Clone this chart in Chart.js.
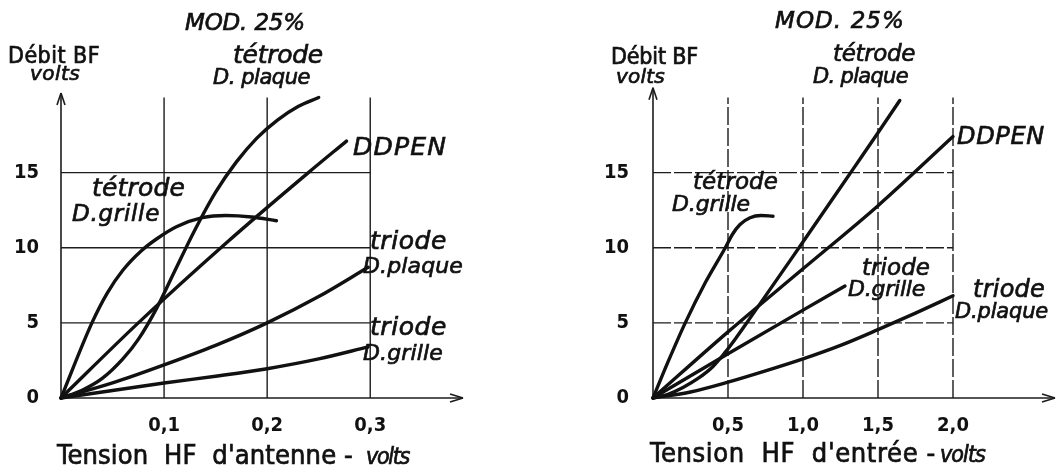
<!DOCTYPE html>
<html lang="fr">
<head>
<meta charset="utf-8">
<title>Débit BF - MOD. 25%</title>
<script src="https://cdn.jsdelivr.net/npm/chart.js@4/dist/chart.umd.min.js"></script>
<style>
  html, body { margin: 0; background: #fff; }
  #wrap { position: relative; width: 1058px; height: 469px; overflow: hidden; }
  .panel { position: absolute; top: 0; width: 529px; height: 469px; }
</style>
</head>
<body>
<div id="wrap">
  <div class="panel" style="left:0"><canvas id="antenne"></canvas></div>
  <div class="panel" style="left:529px"><canvas id="entree"></canvas></div>
</div>
<script>
const yTicks = [0, 5, 10, 15];
const curveNames = ['tétrode D.plaque', 'DDPEN', 'tétrode D.grille', 'triode D.plaque', 'triode D.grille'];

// Débit BF (volts) vs tension HF d'antenne (volts)
const antenneTicks = [0.1, 0.2, 0.3];
const antTetrodePlaque = [[0,0],[0.02,0.5],[0.04,1.3],[0.06,2.6],[0.075,3.9],[0.093,6.0],[0.11,8.4],[0.13,11.2],[0.15,13.7],[0.17,15.7],[0.19,17.3],[0.21,18.5],[0.23,19.4],[0.25,20.0]];
const antDdpen = [[0,0],[0.075,5.0],[0.16,10.3],[0.24,15.0],[0.277,17.1]];
const antTetrodeGrille = [[0,0],[0.03,5.0],[0.045,7.0],[0.06,8.5],[0.078,9.8],[0.093,10.6],[0.112,11.4],[0.137,12.0],[0.16,12.15],[0.185,12.05],[0.209,11.8]];
const antTriodePlaque = [[0,0],[0.05,1.0],[0.1,2.2],[0.15,3.5],[0.2,5.0],[0.25,6.75],[0.298,8.7]];
const antTriodeGrille = [[0,0],[0.05,0.5],[0.1,1.0],[0.15,1.45],[0.2,1.95],[0.25,2.6],[0.298,3.4]];

// Débit BF (volts) vs tension HF d'entrée (volts)
const entreeTicks = [0.5, 1.0, 1.5, 2.0];
const entTetrodePlaque = [[0,0],[0.1,0.25],[0.2,0.7],[0.3,1.3],[0.4,2.1],[0.478,3.0],[0.55,3.95],[0.625,5.0],[0.98,10.1],[1.335,15.25],[1.5,17.65],[1.645,19.8]];
const entDdpen = [[0,0],[0.5,4.4],[1.0,8.6],[1.5,12.8],[2.0,17.4]];
const entTetrodeGrille = [[0,0],[0.1,2.4],[0.215,5.0],[0.35,7.7],[0.482,10.0],[0.53,10.9],[0.58,11.55],[0.647,12.0],[0.72,12.15],[0.8,12.1]];
const entTriodeGrille = [[0,0],[0.5,2.95],[1.0,5.85],[1.28,7.45]];
const entTriodePlaque = [[0,0],[0.25,0.4],[0.5,1.05],[0.75,1.8],[1.0,2.6],[1.25,3.5],[1.5,4.55],[1.75,5.65],[2.0,6.8]];

const SANS = "'DejaVu Sans', sans-serif";
const COND = "'DejaVu Sans Condensed', 'DejaVu Sans', sans-serif";
const ITAL = 'italic ';

function comma(v) { return v.toFixed(1).replace('.', ','); }

// text spread to a given width (left x, baseline y), slightly emboldened
function fitText(ctx, t) {
  ctx.font = t.font;
  ctx.letterSpacing = '0px';
  const natural = ctx.measureText(t.text).width;
  const n = [...t.text].length;
  ctx.letterSpacing = ((t.w - natural) / n).toFixed(2) + 'px';
  ctx.fillText(t.text, t.x, t.y);
  ctx.strokeText(t.text, t.x, t.y);
  ctx.letterSpacing = '0px';
}

const frame = {
  id: 'frame',
  beforeDatasetsDraw(chart, args, o) {
    const { ctx, scales: { x, y } } = chart;
    const x0 = x.getPixelForValue(0), y0 = y.getPixelForValue(0);
    const yTop = y.getPixelForValue(20);
    const xGrid = x.getPixelForValue(o.gridEnd);
    const seg = (a, b, c, d) => { ctx.beginPath(); ctx.moveTo(a, b); ctx.lineTo(c, d); ctx.stroke(); };
    ctx.save();
    ctx.strokeStyle = '#1c1c1c';
    ctx.lineWidth = 1.4;
    ctx.setLineDash(o.dash);
    for (const v of o.xTicks) {
      const px = x.getPixelForValue(v);
      seg(px, y0, px, yTop);
    }
    for (const v of yTicks.slice(1)) {
      const py = y.getPixelForValue(v);
      seg(x0, py, xGrid, py);
    }
    ctx.setLineDash([]);
    // axes with open arrowheads
    ctx.lineWidth = 1.6;
    const xTip = x.right, yTip = y.getPixelForValue(o.yArrow);
    seg(x0, y0, xTip, y0);
    seg(x0, y0, x0, yTip);
    seg(xTip - 13, y0 - 4, xTip, y0);
    seg(xTip - 13, y0 + 4, xTip, y0);
    seg(x0 - 4, yTip + 12, x0, yTip);
    seg(x0 + 4, yTip + 12, x0, yTip);
    ctx.restore();
  },
  afterDraw(chart, args, o) {
    const ctx = chart.ctx;
    ctx.save();
    ctx.fillStyle = '#111';
    ctx.strokeStyle = '#111';
    ctx.lineWidth = 0.7;
    ctx.textAlign = 'left';
    ctx.textBaseline = 'alphabetic';
    o.notes.forEach(t => fitText(ctx, t));
    ctx.restore();
  }
};

function makeChart(id, p) {
  const ctx = document.getElementById(id);
  return new Chart(ctx, {
    type: 'line',
    data: {
      datasets: p.curves.map((c, i) => ({
        label: curveNames[i],
        data: c.map(([x, y]) => ({ x, y })),
        borderColor: '#111',
        borderWidth: 3.4,
        borderCapStyle: 'round',
        pointRadius: 0,
        fill: false,
        clip: false,
        cubicInterpolationMode: 'monotone'
      }))
    },
    options: {
      responsive: true,
      maintainAspectRatio: false,
      animation: false,
      events: [],
      layout: { padding: { top: 97.5, right: p.padRight, bottom: 0, left: 0 } },
      scales: {
        x: {
          type: 'linear', min: 0, max: p.xMax,
          afterBuildTicks: s => { s.ticks = p.xTicks.map(v => ({ value: v })); },
          afterFit: s => { s.height = 71; },
          grid: { display: false, drawTicks: false },
          border: { display: false },
          ticks: { padding: 16, color: '#111', font: { family: COND, size: 20, weight: 'bold' }, callback: v => comma(v), maxRotation: 0 }
        },
        y: {
          type: 'linear', min: 0, max: 20,
          afterBuildTicks: s => { s.ticks = yTicks.map(v => ({ value: v })); },
          afterFit: s => { s.width = p.axisLeft; },
          grid: { display: false, drawTicks: false },
          border: { display: false },
          ticks: { padding: p.yPad, color: '#111', font: { family: COND, size: 20, weight: 'bold' } }
        }
      },
      plugins: {
        legend: { display: false },
        tooltip: { enabled: false },
        frame: { xTicks: p.xTicks, gridEnd: p.gridEnd, dash: p.dash, yArrow: p.yArrow, notes: p.notes }
      }
    },
    plugins: [frame]
  });
}

makeChart('antenne', {
  curves: [antTetrodePlaque, antDdpen, antTetrodeGrille, antTriodePlaque, antTriodeGrille],
  xTicks: antenneTicks, xMax: 0.39, gridEnd: 0.3, axisLeft: 61, padRight: 66, yPad: 22,
  dash: [], yArrow: 20.3,
  notes: [
    { text: 'MOD. 25%', x: 185, y: 30, w: 120, font: ITAL + '23px ' + SANS },
    { text: 'tétrode', x: 233, y: 63, w: 90, font: ITAL + '25px ' + SANS },
    { text: 'D. plaque', x: 213, y: 84, w: 97, font: ITAL + '21px ' + SANS },
    { text: 'Débit BF', x: 8, y: 63, w: 92, font: '23px ' + COND },
    { text: 'volts', x: 30, y: 80, w: 50, font: ITAL + '20px ' + SANS },
    { text: 'DDPEN', x: 353, y: 155, w: 94, font: ITAL + '25px ' + SANS },
    { text: 'tétrode', x: 92, y: 196, w: 93, font: ITAL + '25px ' + SANS },
    { text: 'D.grille', x: 72, y: 221, w: 88, font: ITAL + '23px ' + SANS },
    { text: 'triode', x: 370, y: 249, w: 77, font: ITAL + '25px ' + SANS },
    { text: 'D.plaque', x: 363, y: 273, w: 100, font: ITAL + '22px ' + SANS },
    { text: 'triode', x: 370, y: 335, w: 77, font: ITAL + '25px ' + SANS },
    { text: 'D.grille', x: 363, y: 360, w: 80, font: ITAL + '22px ' + SANS },
    { text: 'Tension  HF  d\'antenne -', x: 57, y: 464, w: 296, font: '27px ' + COND },
    { text: 'volts', x: 366, y: 464, w: 43, font: ITAL + '23px ' + COND }
  ]
});

makeChart('entree', {
  curves: [entTetrodePlaque, entDdpen, entTetrodeGrille, entTriodePlaque, entTriodeGrille],
  xTicks: entreeTicks, xMax: 2.68, gridEnd: 2.0, axisLeft: 124, padRight: 3, yPad: 24,
  dash: [18, 3], yArrow: 20.65,
  notes: [
    { text: 'MOD. 25%', x: 246, y: 28, w: 130, font: ITAL + '23px ' + SANS },
    { text: 'tétrode', x: 304, y: 61, w: 82, font: ITAL + '23px ' + SANS },
    { text: 'D. plaque', x: 284, y: 83, w: 95, font: ITAL + '21px ' + SANS },
    { text: 'Débit BF', x: 82, y: 64, w: 87, font: '23px ' + COND },
    { text: 'volts', x: 87, y: 83, w: 49, font: ITAL + '20px ' + SANS },
    { text: 'DDPEN', x: 428, y: 144, w: 88, font: ITAL + '24px ' + SANS },
    { text: 'tétrode', x: 164, y: 189, w: 85, font: ITAL + '23px ' + SANS },
    { text: 'D.grille', x: 143, y: 211, w: 78, font: ITAL + '22px ' + SANS },
    { text: 'triode', x: 333, y: 275, w: 68, font: ITAL + '23px ' + SANS },
    { text: 'D.grille', x: 319, y: 296, w: 77, font: ITAL + '22px ' + SANS },
    { text: 'triode', x: 444, y: 297, w: 72, font: ITAL + '24px ' + SANS },
    { text: 'D.plaque', x: 426, y: 318, w: 93, font: ITAL + '21px ' + SANS },
    { text: 'Tension  HF  d\'entrée -', x: 121, y: 462, w: 286, font: '27px ' + COND },
    { text: 'volts', x: 411, y: 462, w: 45, font: ITAL + '23px ' + COND }
  ]
});
</script>
</body>
</html>
